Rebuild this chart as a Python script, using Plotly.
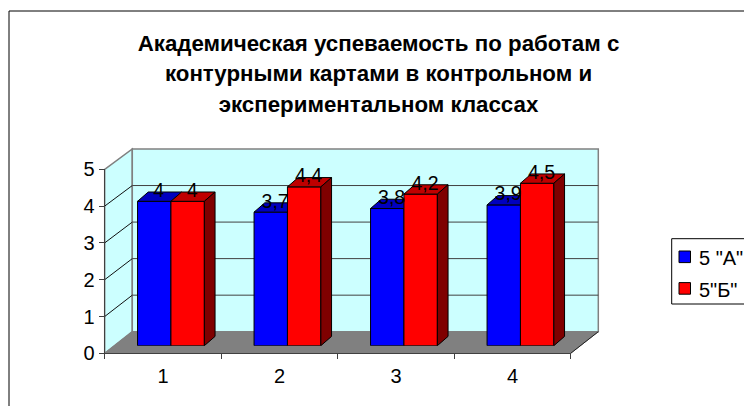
import plotly.graph_objects as go

categories = ["1", "2", "3", "4"]
series_a_name = '5 "А"'
series_b_name = '5"Б"'
series_a = [4.0, 3.7, 3.8, 3.9]
series_b = [4.0, 4.4, 4.2, 4.5]
title_lines = [
    "Академическая успеваемость по работам с",
    "контурными картами в контрольном и",
    "экспериментальном классах",
]
y_ticks = [0, 1, 2, 3, 4, 5]

W, H = 744, 406
FONT = "Liberation Sans"
TEXT = 20


def px(x):
    return x / W


def py(y):
    return 1 - y / H


# geometry of the pseudo 3D box, in pixels
FL, FR, FB, FT = 104.7, 570.7, 353.3, 169.3   # front plane
BL, BR, BB, BT = 132.3, 598.3, 331.7, 149.0   # back wall
BAR_L, BAR_R = FL + 8, FR + 8                 # plane of the bars
BAR_B, BAR_UNIT = 345.7, 36.1
BAR_W = 33.4 / 116.5
DX = 10.7 / 116.5
DY = 9.3 / BAR_UNIT
BAR_RANGE = [0, 5]
BAR_T = BAR_B - BAR_UNIT * 5

WALL = "#CCFFFF"
EDGE = "#808080"
GRID = "#404040"
AXIS = "#404040"


def poly(points, fill, line=None, width=1):
    path = "M" + "L".join(f"{px(x):.5f},{py(y):.5f}" for x, y in points) + "Z"
    return dict(type="path", path=path, xref="paper", yref="paper", layer="below",
                fillcolor=fill, line=dict(color=line or fill, width=width))


def seg(x0, y0, x1, y1, color, width=1):
    return dict(type="line", xref="paper", yref="paper", layer="below",
                x0=px(x0), y0=py(y0), x1=px(x1), y1=py(y1),
                line=dict(color=color, width=width))


shapes = [
    dict(type="rect", xref="paper", yref="paper", layer="below",
         x0=px(9), y0=py(11), x1=px(800), y1=py(460),
         fillcolor="white", line=dict(color="#000000", width=1)),
    poly([(FL, FB), (BL, BB), (BL, BT), (FL, FT)], WALL, EDGE, 1.5),
    poly([(BL, BB), (BR, BB), (BR, BT), (BL, BT)], WALL, EDGE, 1.5),
    poly([(FL, FB), (FR, FB), (BR, BB), (BL, BB)], EDGE, EDGE, 1),
]
for v in y_ticks[1:-1]:
    fy = FB + (FT - FB) * v / 5
    by = BB + (BT - BB) * v / 5
    shapes.append(seg(FL, fy, BL, by, "#101010"))
    shapes.append(seg(BL, by, BR, by, GRID))
shapes.append(seg(FR, FB, BR, BB, "#202020"))

# legend box, swatches
LX0, LY0, LY1 = 671.7, 238.7, 304
shapes.append(dict(type="rect", xref="paper", yref="paper", x0=px(LX0), y0=py(LY0),
                   x1=px(800), y1=py(LY1), fillcolor="white",
                   line=dict(color="#000000", width=1)))
for yc, col in ((256.8, "#0000FF"), (288.4, "#FF0000")):
    shapes.append(dict(type="rect", xref="paper", yref="paper", x0=px(679), x1=px(690.5),
                       y0=py(yc - 5.8), y1=py(yc + 5.8), fillcolor=col,
                       line=dict(color="#000000", width=1)))

fig = go.Figure()

# main axes carry the ticks and their labels
fig.add_trace(go.Scatter(x=categories, y=[0] * len(categories), mode="none",
                         showlegend=False, hoverinfo="skip", xaxis="x", yaxis="y"))

idx = list(range(len(categories)))


def add_series(values, offset, front, top, side, ax):
    xa, ya = "x" + ax, "y" + ax
    fig.add_trace(go.Bar(x=idx, y=values, width=BAR_W, offset=offset,
                         marker=dict(color=front, line=dict(color="#000000", width=1)),
                         cliponaxis=False, showlegend=False, xaxis=xa, yaxis=ya))
    tx, ty, sx, sy = [], [], [], []
    for i, v in zip(idx, values):
        l = i + offset
        r = l + BAR_W
        tx += [l, r, r + DX, l + DX, l, None]
        ty += [v, v, v + DY, v + DY, v, None]
        sx += [r, r + DX, r + DX, r, r, None]
        sy += [0, DY, v + DY, v, 0, None]
    fig.add_trace(go.Scatter(x=tx, y=ty, mode="lines", fill="toself", fillcolor=top,
                             line=dict(color="#000000", width=1), cliponaxis=False,
                             showlegend=False, hoverinfo="skip", xaxis=xa, yaxis=ya))
    if side:
        fig.add_trace(go.Scatter(x=sx, y=sy, mode="lines", fill="toself", fillcolor=side,
                                 line=dict(color="#000000", width=1), cliponaxis=False,
                                 showlegend=False, hoverinfo="skip", xaxis=xa, yaxis=ya))


add_series(series_a, -BAR_W, "#0000FF", "#0000BF", None, "2")
add_series(series_b, 0, "#FF0000", "#BF0000", "#7F0000", "3")


def labels(values, offset):
    fig.add_trace(go.Scatter(
        x=[i + offset + BAR_W / 2 + DX / 2 - 0.008 for i in idx],
        y=[v + DY for v in values],
        text=[f"{v:g}".replace(".", ",") for v in values],
        mode="text", textposition="middle center",
        textfont=dict(family=FONT, size=TEXT - 0.5, color="#000000"),
        cliponaxis=False, showlegend=False, hoverinfo="skip", xaxis="x3", yaxis="y3"))


labels(series_a, -BAR_W)
labels(series_b, 0)

annotations = [
    dict(text=series_a_name, x=px(696.5), y=py(257.5), xref="paper", yref="paper",
         xanchor="left", yanchor="middle", showarrow=False,
         font=dict(family=FONT, size=TEXT, color="#000000")),
    dict(text=series_b_name, x=px(696.5), y=py(289.5), xref="paper", yref="paper",
         xanchor="left", yanchor="middle", showarrow=False,
         font=dict(family=FONT, size=TEXT, color="#000000")),
]

title_text = "<br>".join(
    f'<span style="font-size:22.3px"><b>{t}</b></span>' for t in title_lines)

hidden_x = dict(visible=False, domain=[px(BAR_L), px(BAR_R)], range=[-0.5, 3.5],
                fixedrange=True)
hidden_y = dict(visible=False, domain=[py(BAR_B), py(BAR_T)], range=BAR_RANGE,
                fixedrange=True)

fig.update_layout(
    width=W, height=H,
    margin=dict(l=0, r=0, t=0, b=0, autoexpand=False),
    paper_bgcolor="white",
    plot_bgcolor="rgba(0,0,0,0)",
    barmode="overlay",
    showlegend=False,
    font=dict(family=FONT, size=TEXT, color="#000000"),
    title=dict(text=title_text, x=px(378.5), xanchor="center", xref="paper",
               y=py(50.5), yref="container", yanchor="top", automargin=False,
               font=dict(family=FONT, size=23.8, color="#000000")),
    shapes=shapes,
    annotations=annotations,
    xaxis=dict(type="category", categoryorder="array", categoryarray=categories,
               domain=[px(FL), px(FR)], range=[-0.5, 3.5], tickson="boundaries",
               ticks="outside", ticklen=5, tickcolor=AXIS, showgrid=False,
               zeroline=False, showline=True, linecolor=AXIS, linewidth=1,
               ticklabelstandoff=5, anchor="y", fixedrange=True),
    yaxis=dict(domain=[py(FB), py(FT)], range=[0, 5], tickvals=y_ticks,
               ticks="outside", ticklen=5, tickcolor=AXIS, showgrid=False,
               zeroline=False, showline=True, linecolor=AXIS, linewidth=1,
               anchor="x", fixedrange=True),
    xaxis2=dict(hidden_x, anchor="y2"),
    yaxis2=dict(hidden_y, anchor="x2"),
    xaxis3=dict(hidden_x, anchor="y3"),
    yaxis3=dict(hidden_y, anchor="x3"),
)

fig.write_html("out.html", config=dict(displayModeBar=False),
               post_script="document.body.style.margin='0';"
                           "document.documentElement.style.overflow='hidden';")
